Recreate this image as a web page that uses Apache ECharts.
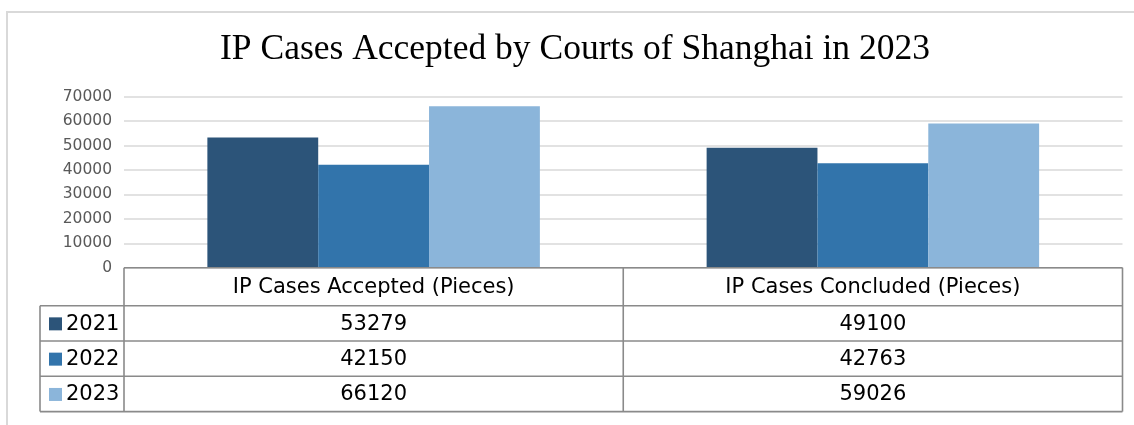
<!DOCTYPE html>
<html><head><meta charset="utf-8">
<script src="https://cdn.jsdelivr.net/npm/echarts@6/dist/echarts.min.js"></script>
<style>html,body{margin:0;padding:0;background:#fff}#c{width:1134px;height:425px}</style>
</head><body><div id="c"></div>
<script>
// ---- data ----
const categories = ['IP Cases Accepted (Pieces)', 'IP Cases Concluded (Pieces)'];
const years = ['2021', '2022', '2023'];
const values2021 = [53279, 49100];
const values2022 = [42150, 42763];
const values2023 = [66120, 59026];
const yMin = 0, yMax = 70000, yStep = 10000;
const titleText = 'IP Cases Accepted by Courts of Shanghai in 2023';

// ---- styling ----
const colors = ['#2c5479', '#3274ab', '#8bb5da'];
const seriesValues = [values2021, values2022, values2023];
const sansFont = '"DejaVu Sans", sans-serif';
const lineColor = '#8a8a8a';

const chart = echarts.init(document.getElementById('c'), null, {renderer: 'canvas'});

chart.setOption({
  animation: false,
  backgroundColor: '#ffffff',
  title: {
    text: titleText,
    left: 570, top: 27, textAlign: 'center',
    textStyle: {fontFamily: '"Liberation Serif", "Times New Roman", serif', fontSize: 35.5, fontWeight: 'normal', color: '#000'}
  },
  grid: {left: 124, right: 11.5, top: 96.7, bottom: 425 - 267.7, containLabel: false},
  xAxis: {
    type: 'category', data: categories,
    axisLine: {show: false}, axisTick: {show: false}, axisLabel: {show: false}, splitLine: {show: false}
  },
  yAxis: {
    type: 'value', min: yMin, max: yMax, interval: yStep,
    axisLine: {show: false}, axisTick: {show: false},
    axisLabel: {fontFamily: sansFont, fontSize: 15.5, color: '#595959', margin: 12, formatter: v => String(v)},
    splitLine: {lineStyle: {color: '#d9d9d9', width: 1.5}}
  },
  series: years.map((y, i) => ({
    name: y, type: 'bar', data: seriesValues[i],
    barGap: '0%', barCategoryGap: '33.4%',
    itemStyle: {color: colors[i]}
  }))
});

// ---- data table under the plot, aligned with the category axis ----
function buildTable() {
  const c0 = chart.convertToPixel({xAxisIndex: 0}, 0);
  const c1 = chart.convertToPixel({xAxisIndex: 0}, 1);
  const band = c1 - c0;
  const xs = [c0 - band / 2, c0 + band / 2, c1 + band / 2];
  const y0 = chart.convertToPixel({yAxisIndex: 0}, 0);
  const headerH = 38, rowH = 35.3;
  const legendLeft = 40;
  const rowsY = [y0 + headerH];
  for (let i = 0; i < years.length; i++) rowsY.push(rowsY[i] + rowH);
  const yEnd = rowsY[rowsY.length - 1];
  const els = [];
  const ls = {stroke: lineColor, lineWidth: 1.6};
  const font = '21px ' + sansFont;
  // outer light frame
  els.push({type: 'rect', shape: {x: 7, y: 12, width: 1150, height: 440}, style: {fill: 'none', stroke: '#d9d9d9', lineWidth: 2}, z: 1, silent: true});
  // horizontal lines
  els.push({type: 'line', shape: {x1: xs[0], y1: y0, x2: xs[2], y2: y0}, style: ls, z: 10});
  rowsY.forEach(yy => els.push({type: 'line', shape: {x1: legendLeft, y1: yy, x2: xs[2], y2: yy}, style: ls, z: 10}));
  // vertical lines
  els.push({type: 'line', shape: {x1: legendLeft, y1: rowsY[0], x2: legendLeft, y2: yEnd}, style: ls, z: 10});
  xs.forEach(xx => els.push({type: 'line', shape: {x1: xx, y1: y0, x2: xx, y2: yEnd}, style: ls, z: 10}));
  // header texts
  categories.forEach((cat, j) => {
    els.push({type: 'text', x: (xs[j] + xs[j + 1]) / 2, y: (y0 + rowsY[0]) / 2 + 1,
      style: {text: cat, font: font, fill: '#000', align: 'center', verticalAlign: 'middle'}, z: 11});
  });
  // rows
  years.forEach((yr, i) => {
    const cy = (rowsY[i] + rowsY[i + 1]) / 2 + 1;
    els.push({type: 'rect', shape: {x: 49, y: cy - 7, width: 13, height: 13}, style: {fill: colors[i]}, z: 11});
    els.push({type: 'text', x: 66, y: cy, style: {text: yr, font: font, fill: '#000', align: 'left', verticalAlign: 'middle'}, z: 11});
    seriesValues[i].forEach((v, j) => {
      els.push({type: 'text', x: (xs[j] + xs[j + 1]) / 2, y: cy,
        style: {text: String(v), font: font, fill: '#000', align: 'center', verticalAlign: 'middle'}, z: 11});
    });
  });
  chart.setOption({graphic: {elements: els}});
}
buildTable();
</script>
</body></html>
